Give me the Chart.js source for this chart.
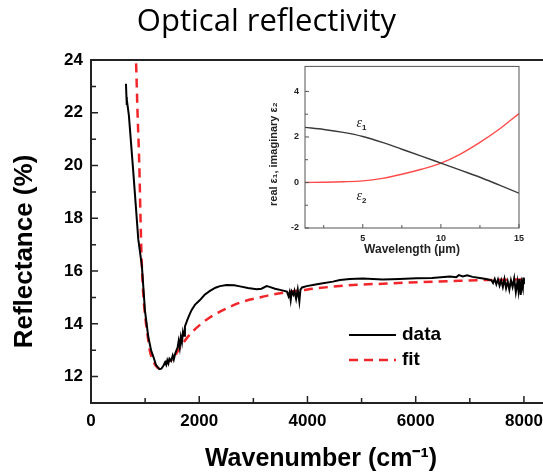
<!DOCTYPE html>
<html lang="en">
<head>
    <meta charset="UTF-8">
    <title>Optical reflectivity</title>
    <script src="https://cdn.jsdelivr.net/npm/chart.js@4.4.1/dist/chart.umd.min.js"></script>
    <style>
        html, body { margin: 0; padding: 0; overflow: hidden; background: #fff; }
        #wrap { position: relative; width: 543px; height: 476px; overflow: hidden; }
        #title { position: absolute; left: 0; top: -2px; width: 533px; text-align: center;
                 font-family: "Open Sans", sans-serif; font-size: 31px; color: #000; }
        #main { position: absolute; left: 0; top: 0; }
        #inset { position: absolute; left: 255px; top: 55px; }
    </style>
</head>
<body>
    <div id="wrap">
        <canvas id="main" width="560" height="476"></canvas>
        <canvas id="inset" width="280" height="210"></canvas>
        <div id="title">Optical reflectivity</div>
    </div>
    <script>
        // main plot: reflectance vs wavenumber
        var dataX = [646, 655, 660, 663, 700, 780, 874, 940, 997, 1059, 1110, 1151, 1200, 1262, 1300,
            1340, 1370, 1390, 1410, 1430, 1450, 1480, 1510, 1530, 1560, 1600, 1620, 1640, 1660, 1680,
            1700, 1720, 1736, 1780, 1820, 1860, 1920, 2013, 2100, 2198, 2300, 2383, 2506, 2650, 2752,
            2900, 3060, 3150, 3245, 3300, 3400, 3552, 3620, 3650, 3670, 3690, 3710, 3740, 3760, 3790,
            3820, 3850, 3870, 3900, 3984, 4100, 4230, 4470, 4600, 4784, 5024, 5393, 5700, 6015, 6300,
            6631, 6750, 6800, 6871, 6950, 7050, 7185, 7300, 7400, 7430, 7460, 7490, 7520, 7550, 7580,
            7610, 7640, 7670, 7700, 7730, 7760, 7790, 7820, 7850, 7880, 7900, 7920, 7940, 7960, 7980,
            7990, 8000];
        var dataY = [23.1, 22.6, 22.3, 22.5, 21.9, 19.8, 17.2, 16.2, 14.5, 13.5, 13.0, 12.76, 12.45, 12.28, 12.3,
            12.42, 12.55, 12.45, 12.62, 12.5, 12.68, 12.6, 12.8, 12.65, 12.9, 13.1, 13.35, 13.1, 13.5, 13.3,
            13.7, 13.55, 13.9, 14.15, 14.35, 14.53, 14.72, 14.9, 15.1, 15.25, 15.37, 15.43, 15.47, 15.46, 15.42,
            15.36, 15.31, 15.33, 15.43, 15.4, 15.33, 15.26, 15.22, 15.05, 15.2, 14.9, 15.22, 15.1, 15.25, 14.95,
            15.3, 14.85, 15.3, 15.38, 15.43, 15.47, 15.52, 15.6, 15.66, 15.7, 15.72, 15.68, 15.7, 15.73, 15.74,
            15.79, 15.77, 15.85, 15.8, 15.84, 15.78, 15.74, 15.7, 15.65, 15.55, 15.7, 15.5, 15.68, 15.45, 15.65,
            15.4, 15.7, 15.35, 15.6, 15.3, 15.65, 15.4, 15.72, 15.2, 15.6, 15.25, 15.7, 15.1, 15.55, 15.35,
            15.75, 15.5];
        var fitX = [810, 831, 860, 893, 915, 936, 970, 1000, 1050, 1090, 1150, 1200, 1250, 1300, 1400,
            1521, 1600, 1767, 1900, 2013, 2200, 2383, 2570, 2752, 2940, 3121, 3300, 3491, 3680, 3860,
            4100, 4470, 5000, 5393, 5800, 6317, 6800, 7240, 7600, 7924, 8000];
        var fitY = [25, 24, 22, 20, 18, 16.4, 15.0, 14.3, 13.5, 12.95, 12.6, 12.4, 12.32, 12.38, 12.55,
            12.68, 12.95, 13.45, 13.75, 13.96, 14.25, 14.46, 14.65, 14.8, 14.92, 15.0, 15.09, 15.16, 15.22, 15.26,
            15.33, 15.41, 15.49, 15.52, 15.56, 15.6, 15.63, 15.66, 15.67, 15.68, 15.68];
        var mainXMajor = [0, 2000, 4000, 6000, 8000];
        var mainXMinor = [1000, 3000, 5000, 7000];
        var mainYMajor = [12, 14, 16, 18, 20, 22, 24];
        var mainYMinor = [13, 15, 17, 19, 21, 23];

        // inset: dielectric function vs wavelength
        var waveX = [1.3, 2.5, 3.75, 5, 6.25, 7.5, 8.75, 10, 11.25, 12.5, 13.75, 15];
        var eps1 = [2.42, 2.33, 2.2, 2.02, 1.76, 1.46, 1.16, 0.85, 0.54, 0.23, -0.12, -0.47];
        var eps2 = [0, 0.01, 0.03, 0.07, 0.18, 0.36, 0.58, 0.85, 1.25, 1.76, 2.35, 3.03];
        var insetXMajor = [5, 10, 15];
        var insetXMinor = [2.5, 7.5, 12.5];
        var insetYMajor = [-2, 0, 2, 4];
        var insetYMinor = [-1, 1, 3];
        // where the curve names sit (data units)
        var epsLabels = [{ name: '1', x: 4.6, y: 2.6 }, { name: '2', x: 4.6, y: -0.6 }];

        var ARIAL = '"Liberation Sans", Arial, sans-serif';

        function pts(xs, ys) {
            return xs.map(function (x, i) { return { x: x, y: ys[i] }; });
        }

        // frame + inward tick marks, Origin style
        var frameTicks = {
            id: 'frameTicks',
            afterDatasetsDraw: function (chart, args, o) {
                var ctx = chart.ctx, a = chart.chartArea, sx = chart.scales.x, sy = chart.scales.y;
                ctx.save();
                ctx.strokeStyle = o.color;
                ctx.lineWidth = o.width;
                ctx.strokeRect(a.left, a.top, a.right - a.left, a.bottom - a.top);
                ctx.lineWidth = o.tickWidth;
                ctx.beginPath();
                function xt(v, len) {
                    var p = sx.getPixelForValue(v);
                    ctx.moveTo(p, a.bottom); ctx.lineTo(p, a.bottom - len);
                }
                function yt(v, len) {
                    var p = sy.getPixelForValue(v);
                    ctx.moveTo(a.left, p); ctx.lineTo(a.left + len, p);
                }
                o.xMajor.forEach(function (v) { xt(v, o.major); });
                o.xMinor.forEach(function (v) { xt(v, o.minor); });
                o.yMajor.forEach(function (v) { yt(v, o.major); });
                o.yMinor.forEach(function (v) { yt(v, o.minor); });
                ctx.stroke();
                ctx.restore();
            }
        };

        // rotated y title, placed by hand (the original is not centred on the axis)
        var sideTitle = {
            id: 'sideTitle',
            afterDraw: function (chart, args, o) {
                var ctx = chart.ctx, a = chart.chartArea;
                ctx.save();
                ctx.translate(o.x, (a.top + a.bottom) / 2 + o.dy);
                ctx.rotate(-Math.PI / 2);
                ctx.font = o.font;
                ctx.fillStyle = o.color;
                ctx.textAlign = 'center';
                ctx.textBaseline = 'middle';
                ctx.fillText(o.text, 0, 0);
                ctx.restore();
            }
        };

        var lineLegend = {
            id: 'lineLegend',
            afterDraw: function (chart, args, o) {
                var ctx = chart.ctx;
                ctx.save();
                ctx.font = 'bold 19px ' + ARIAL;
                ctx.textBaseline = 'middle';
                chart.data.datasets.forEach(function (ds, i) {
                    var y = o.y + i * o.gap;
                    ctx.strokeStyle = ds.borderColor;
                    ctx.lineWidth = ds.borderWidth;
                    ctx.setLineDash(ds.borderDash || []);
                    ctx.beginPath();
                    ctx.moveTo(o.x, y); ctx.lineTo(o.x + o.len, y);
                    ctx.stroke();
                    ctx.setLineDash([]);
                    ctx.fillStyle = '#000';
                    ctx.fillText(ds.label, o.x + o.len + 6, y);
                });
                ctx.restore();
            }
        };

        var epsNames = {
            id: 'epsNames',
            afterDraw: function (chart) {
                var ctx = chart.ctx, sx = chart.scales.x, sy = chart.scales.y;
                ctx.save();
                ctx.fillStyle = '#222';
                ctx.textBaseline = 'alphabetic';
                epsLabels.forEach(function (l) {
                    var px = sx.getPixelForValue(l.x), py = sy.getPixelForValue(l.y);
                    ctx.font = 'italic 14px "Liberation Serif", serif';
                    ctx.fillText('\u03b5', px, py + 4);
                    var w = ctx.measureText('\u03b5').width;
                    ctx.font = 'bold 8px ' + ARIAL;
                    ctx.fillText(l.name, px + w, py + 7);
                });
                ctx.restore();
            }
        };

        function fixedTicks(list) {
            return function (scale) {
                scale.ticks = list.map(function (v) { return { value: v }; });
            };
        }
        function plain(v) { return String(v); }

        new Chart(document.getElementById('main'), {
            type: 'line',
            data: {
                datasets: [{
                    label: 'data',
                    data: pts(dataX, dataY),
                    borderColor: '#000',
                    borderWidth: 2,
                    pointRadius: 0,
                    tension: 0
                }, {
                    label: 'fit',
                    data: pts(fitX, fitY),
                    borderColor: '#f2262a',
                    borderWidth: 2.5,
                    borderDash: [9, 6],
                    pointRadius: 0,
                    cubicInterpolationMode: 'monotone'
                }]
            },
            options: {
                responsive: false,
                animation: false,
                layout: { padding: { top: 60, right: 9, left: 0, bottom: 0 } },
                plugins: {
                    legend: { display: false },
                    tooltip: { enabled: false },
                    frameTicks: { color: '#222', width: 2, tickWidth: 1.5, major: 7, minor: 5,
                        xMajor: mainXMajor, xMinor: mainXMinor, yMajor: mainYMajor, yMinor: mainYMinor },
                    sideTitle: { text: 'Reflectance (%)', x: 25, dy: 20, color: '#000',
                        font: 'bold 26px ' + ARIAL },
                    lineLegend: { x: 349, y: 335, gap: 25, len: 47 }
                },
                scales: {
                    x: {
                        type: 'linear', min: 0, max: 8500,
                        afterBuildTicks: fixedTicks(mainXMajor),
                        afterFit: function (s) { s.height = 73; },
                        grid: { display: false, drawTicks: false },
                        border: { display: false },
                        ticks: { color: '#000', padding: 8, callback: plain,
                            font: { family: ARIAL, size: 17, weight: 'bold' } },
                        title: { display: true, text: 'Wavenumber (cm\u207b\u00b9)', color: '#000',
                            padding: { top: 0, bottom: 2 }, font: { family: ARIAL, size: 25, weight: 'bold' } }
                    },
                    y: {
                        min: 11, max: 24,
                        afterBuildTicks: fixedTicks(mainYMajor),
                        afterFit: function (s) { s.width = 91; },
                        grid: { display: false, drawTicks: false },
                        border: { display: false },
                        ticks: { color: '#000', padding: 8, callback: plain,
                            font: { family: ARIAL, size: 17, weight: 'bold' } }
                    }
                }
            },
            plugins: [frameTicks, lineLegend, sideTitle]
        });

        new Chart(document.getElementById('inset'), {
            type: 'line',
            data: {
                datasets: [{
                    label: 'e1',
                    data: pts(waveX, eps1),
                    borderColor: '#3a3a3a',
                    borderWidth: 1.4,
                    pointRadius: 0,
                    cubicInterpolationMode: 'monotone'
                }, {
                    label: 'e2',
                    data: pts(waveX, eps2),
                    borderColor: '#ff4a4a',
                    borderWidth: 1.4,
                    pointRadius: 0,
                    cubicInterpolationMode: 'monotone'
                }]
            },
            options: {
                responsive: false,
                animation: false,
                layout: { padding: { top: 11, right: 16, left: 0, bottom: 0 } },
                plugins: {
                    legend: { display: false },
                    tooltip: { enabled: false },
                    frameTicks: { color: '#555', width: 1, tickWidth: 1, major: 4, minor: 3,
                        xMajor: insetXMajor, xMinor: insetXMinor, yMajor: insetYMajor, yMinor: insetYMinor },
                    sideTitle: { text: 'real \u03b5\u2081, imaginary \u03b5\u2082', x: 19, dy: 7, color: '#222',
                        font: 'bold 11px ' + ARIAL }
                },
                scales: {
                    x: {
                        type: 'linear', min: 1.3, max: 15,
                        afterBuildTicks: fixedTicks(insetXMajor),
                        afterFit: function (s) { s.height = 37; },
                        grid: { display: false, drawTicks: false },
                        border: { display: false },
                        ticks: { color: '#222', padding: 5, callback: plain,
                            font: { family: ARIAL, size: 9, weight: 'bold' } },
                        title: { display: true, text: 'Wavelength (\u00b5m)', color: '#222',
                            padding: { top: 0, bottom: 8 }, font: { family: ARIAL, size: 12, weight: 'bold' } }
                    },
                    y: {
                        min: -2, max: 5.1,
                        afterBuildTicks: fixedTicks(insetYMajor),
                        afterFit: function (s) { s.width = 50; },
                        grid: { display: false, drawTicks: false },
                        border: { display: false },
                        ticks: { color: '#222', padding: 6, callback: plain,
                            font: { family: ARIAL, size: 9, weight: 'bold' } }
                    }
                }
            },
            plugins: [frameTicks, epsNames, sideTitle]
        });
    </script>
</body>
</html>
